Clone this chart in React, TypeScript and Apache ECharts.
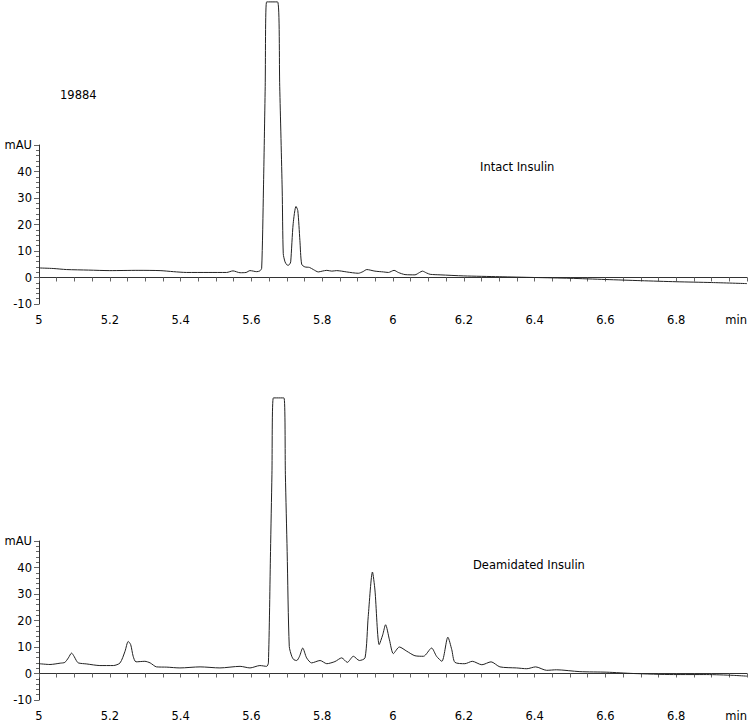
import React, { useEffect, useRef } from "react";
import * as echarts from "echarts";

// Retention time (min) and absorbance (mAU)
const intactTrace: [number, number][] = [
  [5.0, 3.6], [5.04, 3.4], [5.078, 3.0], [5.14, 2.8], [5.2, 2.6], [5.28, 2.7], [5.342, 2.6],
  [5.38, 2.2], [5.417, 1.9], [5.48, 1.9], [5.53, 1.9], [5.548, 2.5], [5.568, 1.8], [5.585, 1.9],
  [5.596, 2.6], [5.615, 2.2], [5.624, 2.5], [5.629, 3.5], [5.634, 33], [5.639, 72], [5.643, 104],
  [5.674, 104], [5.68, 72], [5.687, 33], [5.69, 9.0], [5.695, 5.9], [5.7, 4.8], [5.704, 4.6],
  [5.708, 5.0], [5.711, 5.9], [5.718, 20.3], [5.726, 26.8], [5.731, 25.3], [5.737, 14],
  [5.742, 5.0], [5.751, 4.0], [5.764, 3.8], [5.775, 3.0], [5.789, 2.1], [5.8, 2.4], [5.813, 2.7],
  [5.827, 2.4], [5.841, 2.6], [5.855, 2.4], [5.869, 2.1], [5.902, 1.6], [5.915, 2.2], [5.926, 3.0],
  [5.949, 2.4], [5.973, 2.1], [5.987, 1.9], [6.003, 2.7], [6.015, 1.9], [6.034, 1.1], [6.062, 1.0],
  [6.075, 1.9], [6.083, 2.4], [6.095, 1.7], [6.105, 1.2], [6.133, 1.0], [6.2, 0.6], [6.3, 0.3],
  [6.4, 0.0], [6.5, -0.3], [6.6, -0.75], [6.7, -1.2], [6.8, -1.6], [6.9, -1.9], [7.0, -2.3],
];

const deamidatedTrace: [number, number][] = [
  [5.0, 3.7], [5.031, 3.4], [5.06, 3.9], [5.073, 4.2], [5.083, 5.9], [5.092, 7.7], [5.099, 6.5],
  [5.105, 5.0], [5.111, 4.0], [5.135, 3.6], [5.172, 3.0], [5.21, 3.0], [5.229, 4.0], [5.243, 8.4],
  [5.252, 12.1], [5.259, 10.9], [5.266, 6.5], [5.274, 4.4], [5.299, 4.6], [5.314, 4.0], [5.332, 2.5],
  [5.361, 2.4], [5.398, 2.1], [5.455, 2.5], [5.511, 2.1], [5.568, 2.7], [5.596, 2.1], [5.624, 3.0],
  [5.643, 2.7], [5.648, 4.0], [5.654, 46], [5.658, 75], [5.662, 104], [5.692, 104], [5.696, 75],
  [5.701, 46], [5.707, 10.2], [5.714, 6.5], [5.72, 5.2], [5.728, 4.9], [5.736, 6.5], [5.745, 9.6],
  [5.756, 5.9], [5.77, 4.0], [5.794, 4.9], [5.813, 3.7], [5.836, 4.5], [5.855, 5.9], [5.871, 4.2],
  [5.888, 6.5], [5.905, 4.9], [5.921, 5.9], [5.93, 21.5], [5.942, 38.3], [5.949, 31.5], [5.961, 10.9],
  [5.971, 14.6], [5.979, 18.4], [5.99, 12.7], [6.001, 7.5], [6.018, 10.0], [6.039, 8.4], [6.062, 6.7],
  [6.086, 6.5], [6.109, 9.6], [6.123, 6.5], [6.138, 4.6], [6.155, 13.7], [6.166, 9.0], [6.175, 4.2],
  [6.203, 3.7], [6.224, 4.6], [6.251, 3.3], [6.277, 4.4], [6.302, 2.5], [6.349, 2.1], [6.378, 1.8],
  [6.403, 2.5], [6.434, 1.2], [6.462, 1.4], [6.528, 0.7], [6.604, 0.5], [6.679, 0.0], [6.792, -0.4],
  [6.886, -0.4], [6.961, -0.7], [7.0, -1.0],
];

const timeRange = [5, 7];
const auRange = [-10, 50];
const annotations = ["19884", "Intact Insulin", "Deamidated Insulin"];

const FONT = "DejaVu Sans";

export default function App() {
  const ref = useRef<HTMLDivElement>(null);
  useEffect(() => {
    if (!ref.current) return;
    const chart = echarts.init(ref.current, null, { renderer: "svg" });

    const xAxisBase = (gridIndex: number) => ({
      type: "value",
      gridIndex,
      min: timeRange[0],
      max: timeRange[1],
      interval: 0.2,
      axisLine: { show: true, lineStyle: { color: "#333", width: 1 } },
      axisTick: { show: true, length: 4, lineStyle: { color: "#666" } },
      minorTick: { show: true, splitNumber: 4, length: 4, lineStyle: { color: "#666" } },
      splitLine: { show: false },
      minorSplitLine: { show: false },
      axisLabel: {
        fontFamily: FONT,
        fontSize: 11.5,
        color: "#000",
        margin: 10,
        alignMaxLabel: "right",
        formatter: (v: number) => (v >= 6.99 ? "min" : String(Math.round(v * 10) / 10)),
      },
    });
    const yAxisBase = (gridIndex: number) => ({
      type: "value",
      gridIndex,
      min: auRange[0],
      max: auRange[1],
      interval: 10,
      axisLine: { show: true, lineStyle: { color: "#333", width: 1 } },
      axisTick: { show: true, length: 5, lineStyle: { color: "#666" } },
      minorTick: { show: true, splitNumber: 5, length: 3, lineStyle: { color: "#666" } },
      splitLine: { show: false },
      minorSplitLine: { show: false },
      axisLabel: {
        fontFamily: FONT,
        fontSize: 11.5,
        color: "#000",
        margin: 7,
        formatter: (v: number) => (v === 50 ? "mAU" : String(v)),
      },
    });

    const lineSeries = (idx: number, data: [number, number][]) => ({
      type: "line",
      xAxisIndex: idx,
      yAxisIndex: idx,
      data,
      showSymbol: false,
      symbol: "none",
      smooth: 0.25,
      clip: false,
      lineStyle: { color: "#222", width: 1 },
    });

    chart.setOption({
      animation: false,
      backgroundColor: "#fff",
      grid: [
        { left: 39, right: 3, top: 145, height: 159 },
        { left: 39, right: 3, top: 541, height: 160 },
      ],
      xAxis: [xAxisBase(0), xAxisBase(1)],
      yAxis: [yAxisBase(0), yAxisBase(1)],
      series: [lineSeries(0, intactTrace), lineSeries(1, deamidatedTrace)],
      graphic: [
        {
          type: "text",
          left: 60,
          top: 89,
          style: { text: annotations[0], fontFamily: FONT, fontSize: 11.5, fill: "#000" },
        },
        {
          type: "text",
          left: 480,
          top: 161,
          style: { text: annotations[1], fontFamily: FONT, fontSize: 11.5, fill: "#000" },
        },
        {
          type: "text",
          left: 473,
          top: 559,
          style: { text: annotations[2], fontFamily: FONT, fontSize: 11.5, fill: "#000" },
        },
      ],
    });
    return () => chart.dispose();
  }, []);
  return (
    <div
      ref={ref}
      style={{ position: "fixed", left: 0, top: 0, width: 750, height: 722, background: "#fff" }}
    />
  );
}
